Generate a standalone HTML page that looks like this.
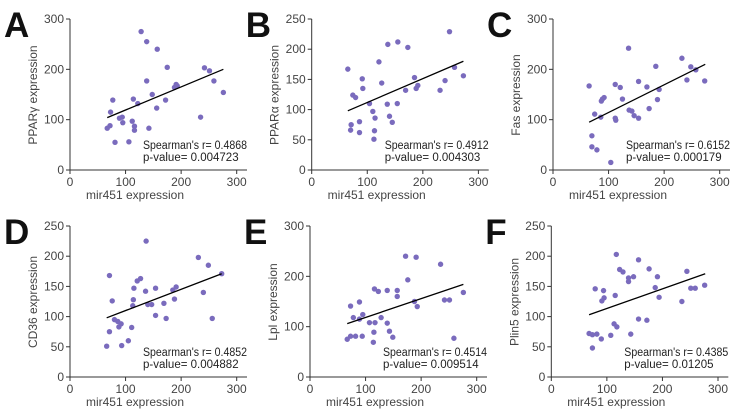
<!DOCTYPE html>
<html><head><meta charset="utf-8"><style>
html,body{margin:0;padding:0;background:#fff;}
svg{display:block;font-family:"Liberation Sans",sans-serif;}
</style></head><body>
<svg id="fig" width="738" height="414" viewBox="0 0 738 414"></svg>
<script>
// Panel A - PPARγ
const aX=[128,138,157,175,242,251,259,276,138,148,172,156,191,188,193,235,77,73,114,122,89,94,95,112,116,116,72,67,142,81,106];
const aY=[275,255,240,204,203,197,177,154,177,150,139,123,170,164,167,105,139,115,141,132,103,105,94,97,87,79,88,83,83,55,56];
const aLine=[67,104,276,200];
// Panel B - PPARα
const bX=[248,137,155,173,121,65,91,126,92,185,257,273,240,231,169,191,188,74,79,104,154,136,110,114,140,145,86,71,70,86,113,112];
const bY=[229,208,212,203,179,167,151,144,135,153,170,156,148,132,132,140,135,124,120,110,110,109,97,86,89,79,80,75,66,62,65,51];
const bLine=[65,98,273,180];
// Panel C - Fas
const cX=[136,232,248,257,273,185,241,191,188,154,169,173,112,121,125,65,92,87,89,137,142,146,154,112,113,75,86,70,70,79,104];
const cY=[242,222,205,199,177,206,179,160,140,176,165,122,170,164,141,167,144,137,141,119,117,108,103,103,99,111,105,68,46,40,15];
const cLine=[65,95,274,210];
// Panel D - CD36
const dX=[137,231,249,273,240,256,71,127,121,115,154,136,191,185,188,114,113,140,147,169,154,173,76,80,86,92,88,111,71,105,93,66];
const dY=[225,198,185,171,140,97,168,163,159,147,147,142,149,144,129,128,118,120,120,122,102,97,126,95,92,88,83,82,75,60,52,51];
const dLine=[66,98,273,171];
// Panel E - Lpl
const eX=[172,191,235,176,116,123,139,157,157,276,242,251,188,193,259,73,89,95,89,78,128,107,117,139,143,149,115,114,94,82,73,67];
const eY=[240,238,224,193,175,170,172,172,160,168,153,153,150,140,77,141,149,124,115,118,118,108,108,107,91,79,89,69,81,81,81,75];
const eLine=[67,106,276,184];
// Panel F - Plin5
const fX=[117,157,176,123,129,148,139,139,191,244,276,251,259,187,194,235,79,94,95,91,115,113,118,157,172,143,107,68,74,82,90,74];
const fY=[203,194,179,178,174,166,164,158,166,175,152,147,147,148,132,125,146,143,131,126,135,88,83,96,94,71,69,72,70,71,63,48];
const fLine=[68,103,277,171];

const xTicks=[0,100,200,300];
const yTicks300=[0,100,200,300];
const yTicks250=[0,50,100,150,200,250];

const panels=[
 {id:'a',letter:'A',ox:70,oy:170,ymax:300,yt:yTicks300,xs:aX,ys:aY,ln:aLine,yl:'PPARγ expression',r:'0.4868',p:'0.004723'},
 {id:'b',letter:'B',ox:311.7,oy:170,ymax:250,yt:yTicks250,xs:bX,ys:bY,ln:bLine,yl:'PPARα expression',r:'0.4912',p:'0.004303'},
 {id:'c',letter:'C',ox:553,oy:170,ymax:300,yt:yTicks300,xs:cX,ys:cY,ln:cLine,yl:'Fas expression',r:'0.6152',p:'0.000179'},
 {id:'d',letter:'D',ox:70,oy:377,ymax:250,yt:yTicks250,xs:dX,ys:dY,ln:dLine,yl:'CD36 expression',r:'0.4852',p:'0.004882'},
 {id:'e',letter:'E',ox:310,oy:377,ymax:300,yt:yTicks300,xs:eX,ys:eY,ln:eLine,yl:'Lpl expression',r:'0.4514',p:'0.009514'},
 {id:'f',letter:'F',ox:551.3,oy:377,ymax:250,yt:yTicks250,xs:fX,ys:fY,ln:fLine,yl:'Plin5 expression',r:'0.4385',p:'0.01205'}
];
const NS='http://www.w3.org/2000/svg';
const svg=document.getElementById('fig');
function mk(tag,attrs,parent,text){
  const e=document.createElementNS(NS,tag);
  for(const k in attrs)e.setAttribute(k,attrs[k]);
  if(text!==undefined)e.textContent=text;
  parent.appendChild(e);return e;
}
const W=166.7,H=151;
panels.forEach(P=>{
  const g=mk('g',{},svg);
  
  
  const sx=v=>P.ox+v/300*W;
  const sy=v=>P.oy-v/P.ymax*H;
  const L=mk('text',{x:P.ox-66,y:P.oy-133,'font-size':35,'font-weight':'bold',fill:'#111'},g,P.letter);
  
  
  const ya=mk('line',{x1:P.ox,y1:P.oy,x2:P.ox,y2:P.oy-H,stroke:'#333','stroke-width':1},g);
  
  
  const xa=mk('line',{x1:P.ox,y1:P.oy,x2:P.ox+177,y2:P.oy,stroke:'#333','stroke-width':1},g);
  
  
  P.yt.forEach(t=>{
    mk('line',{x1:P.ox-4,y1:sy(t),x2:P.ox,y2:sy(t),stroke:'#333'},g);
    const tl=mk('text',{x:P.ox-6,y:sy(t)+4,'font-size':12,'text-anchor':'end',fill:'#444'},g,t);
    
    
  });
  xTicks.forEach(t=>{
    mk('line',{x1:sx(t),y1:P.oy,x2:sx(t),y2:P.oy+4,stroke:'#333'},g);
    const tl=mk('text',{x:sx(t),y:P.oy+16,'font-size':12,'text-anchor':'middle',fill:'#444'},g,t);
    
    
  });
  const xt=mk('text',{x:P.ox+65,y:P.oy+29,'font-size':12,'text-anchor':'middle',fill:'#444'},g,'mir451 expression');
  
  
  const cy=P.oy-75;
  const yt=mk('text',{x:P.ox-33,y:cy,'font-size':12,'text-anchor':'middle',fill:'#444',transform:'rotate(-90 '+(P.ox-33)+' '+cy+')'},g,P.yl);
  
  
  P.xs.forEach((x,i)=>{
    const c=mk('circle',{cx:sx(x),cy:sy(P.ys[i]),r:2.7,fill:'#7a6bbd'},g);
    
    
  });
  const rl=mk('line',{x1:sx(P.ln[0]),y1:sy(P.ln[1]),x2:sx(P.ln[2]),y2:sy(P.ln[3]),stroke:'#000','stroke-width':1.3},g);
  
  
  const s1=mk('text',{x:P.ox+73,y:P.oy-21,'font-size':11.5,fill:'#222',textLength:104,lengthAdjust:'spacingAndGlyphs'},g,"Spearman's r= "+P.r);
  
  
  const s2=mk('text',{x:P.ox+73,y:P.oy-9,'font-size':11.5,fill:'#222'},g,'p-value= '+P.p);
  
  
});
</script>
</body></html>
